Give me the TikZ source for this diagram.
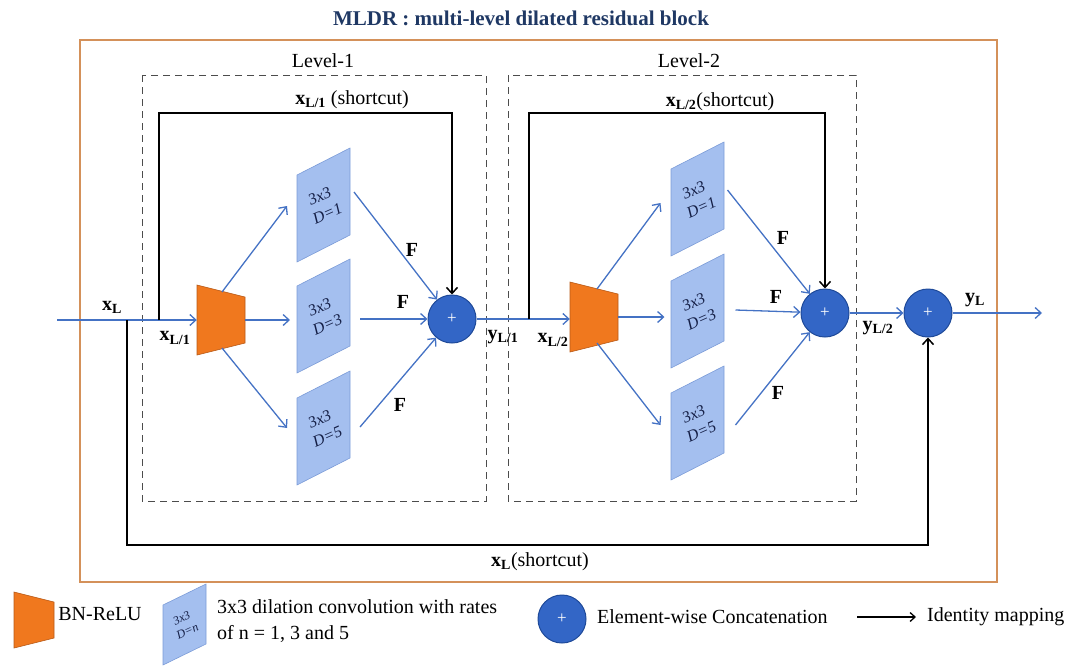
\documentclass[tikz,border=0pt]{standalone}
\usepackage{fontspec}
\setmainfont{Liberation Serif}
\usetikzlibrary{arrows.meta,calc}
\definecolor{blueln}{HTML}{4472C4}
\definecolor{boxfill}{HTML}{A4BFEF}
\definecolor{boxedge}{HTML}{7C9CD8}
\definecolor{orfill}{HTML}{F0781E}
\definecolor{oredge}{HTML}{B85A18}
\definecolor{circfill}{HTML}{3366C6}
\definecolor{circedge}{HTML}{1F4A99}
\definecolor{outerc}{HTML}{D4915A}
\definecolor{navy}{HTML}{1F3864}
\definecolor{boxtxtc}{HTML}{141E45}
\newcommand\convbox[9]{% name, cx, cy, w, h, off, D, font size, baselineskip
  \filldraw[fill=boxfill, draw=boxedge, line width=0.6pt]
    ({#2-#4/2},{#3-#5/2+#6/2}) -- ({#2+#4/2},{#3-#5/2-#6/2}) --
    ({#2+#4/2},{#3+#5/2-#6/2}) -- ({#2-#4/2},{#3+#5/2+#6/2}) -- cycle;
  \node[boxtxt, font=\fontsize{#8}{#9}\selectfont\itshape] (#1) at (#2,#3) {3x3\\D=#7};
}
\newcommand\bnrelu[6]{% name, cx, cy, hw, hl, hr
  \filldraw[fill=orfill, draw=oredge, line width=0.6pt]
    ({#2-#4},{#3-#5}) -- ({#2+#4},{#3-#6}) -- ({#2+#4},{#3+#6}) -- ({#2-#4},{#3+#5}) -- cycle;
  \node[minimum width=2*#4 pt, minimum height=2*#5 pt, inner sep=0pt] (#1) at (#2,#3) {};
}
\tikzset{
  barrow/.style={draw=blueln, line width=1.3pt, -{Straight Barb[length=6pt,width=11pt]}},
  karrow/.style={draw=black, line width=1.5pt, -{Straight Barb[length=6pt,width=11pt]}},
  lab/.style={font=\fontsize{20}{24}\selectfont\bfseries, inner sep=0pt},
  txt/.style={font=\fontsize{20}{26}\selectfont, inner sep=0pt},
  boxtxt/.style={rotate=24, text=boxtxtc, align=center, inner sep=0pt},
  plus/.style={circle, fill=circfill, draw=circedge, line width=1pt, minimum size=48pt,
    inner sep=0pt, text=white, font=\fontsize{17}{17}\selectfont},
  levelbox/.style={draw=gray!60!black, line width=0.9pt, dash pattern=on 7pt off 5pt},
}
\begin{document}
\begin{tikzpicture}[x=1pt,y=-1pt]
\useasboundingbox (0,0) rectangle (1085,665);

% title
\node[font=\fontsize{21}{25}\selectfont\bfseries, text=navy, inner sep=0pt] (title) at (521,18)
  {MLDR : multi-level dilated residual block};

% outer box and level boxes
\draw[outerc, line width=1.6pt] (80,40) rectangle (997,582);
\draw[levelbox] (142,75) rectangle (486,501);
\draw[levelbox] (508,75) rectangle (856,501);
\node[txt] (lv1) at (323,61) {Level-1};
\node[txt] (lv2) at (689,61) {Level-2};

% level 1 blocks
\bnrelu{t1}{221}{320}{24}{35}{23}
\convbox{b11}{323.5}{205}{53}{87}{27}{1}{16}{19}
\convbox{b13}{323.5}{316}{53}{87}{27}{3}{16}{19}
\convbox{b15}{323.5}{428}{53}{87}{27}{5}{16}{19}
\node[plus] (c1) at (452,319) {+};

% level 2 blocks
\bnrelu{t2}{594}{317}{24}{35}{23}
\convbox{b21}{697.5}{199}{53}{87}{27}{1}{16}{19}
\convbox{b23}{697.5}{311}{53}{87}{27}{3}{16}{19}
\convbox{b25}{697.5}{423}{53}{87}{27}{5}{16}{19}
\node[plus] (c2) at (825,313) {+};
\node[plus] (c3) at (928,313) {+};

% coordinates
\coordinate (in) at (57,320);
\coordinate (s0) at (127,320);
\coordinate (s1) at (159,320);
\coordinate (s2) at (529,319);
\coordinate (out) at (1042,313);

% main line level 1
\draw[barrow] (in) -- (t1.west);
\draw[barrow] ($(t1)+(1,-28)$) -- ($(b11)+(-36.5,1)$);
\draw[barrow] (t1.east |- t1) -- ($(b13)+(-33.5,4)$);
\draw[barrow] ($(t1)+(1,28)$) -- ($(b15)+(-36.5,0)$);
\draw[barrow] ($(b11)+(30.5,-13)$) -- (c1);
\draw[barrow] ($(b13)+(36.5,3)$) -- (c1);
\draw[barrow] ($(b15)+(36.5,-1)$) -- (c1);
\draw[karrow] (s1) -- (159,113) -| (c1.north);

% level 2
\draw[barrow] (c1.east) -- (c1.east -| t2.west);
\draw[barrow] ($(t2)+(3,-28)$) -- ($(b21)+(-37,4)$);
\draw[barrow] (t2.east) -- ($(b23)+(-33,6)$);
\draw[barrow] ($(t2)+(3,26)$) -- ($(b25)+(-37,2)$);
\draw[barrow] ($(b21)+(30,-9)$) -- (c2);
\draw[barrow] ($(b23)+(38,-1)$) -- (c2);
\draw[barrow] ($(b25)+(38,2)$) -- (c2);
\draw[karrow] (s2) -- (529,113) -| (c2.north);

% output
\draw[barrow] (c2.east) -- (c3.west);
\draw[barrow] (c3.east) -- (out);
\draw[karrow] (s0) -- (127,545) -| (c3.south);

% F labels
\node[lab] (f11) at (412,250) {F};
\node[lab] (f13) at (403,302) {F};
\node[lab] (f15) at (400,405) {F};
\node[lab] (f21) at (783,238) {F};
\node[lab] (f23) at (776,297) {F};
\node[lab] (f25) at (778,393) {F};

% variable labels
\node[lab] (lxL) at (112,307) {x\textsubscript{L}};
\node[lab] (lxL1) at (175,338) {x\textsubscript{L/1}};
\node[lab] (lyL1) at (503,337) {y\textsubscript{L/1}};
\node[lab] (lxL2) at (553,340) {x\textsubscript{L/2}};
\node[lab] (lyL2) at (878,328) {y\textsubscript{L/2}};
\node[lab] (lyL) at (975,300) {y\textsubscript{L}};
\node[txt] (sc1) at (352,100) {\textbf{x\textsubscript{L/1}} (shortcut)};
\node[txt] (sc2) at (720,102) {\textbf{x\textsubscript{L/2}}(shortcut)};
\node[txt] (sc0) at (540,562) {\textbf{x\textsubscript{L}}(shortcut)};

% legend
\bnrelu{lt}{34}{620}{20}{28}{18}
\node[txt] (ltxt) at (100,614) {BN-ReLU};
\convbox{lb}{184.5}{624.5}{43}{60}{21}{n}{12}{14}
\node[txt, anchor=west, align=left] (lbtxt) at (217,621)
  {3x3 dilation convolution with rates\\of n = 1, 3 and 5};
\node[plus] (lc) at (562,619) {+};
\node[txt, anchor=west] (lctxt) at (597,617) {Element-wise Concatenation};
\coordinate (la1) at (857,617);
\coordinate (la2) at (916,617);
\draw[draw=black, line width=1.3pt, -{Straight Barb[length=5pt,width=9pt]}] (la1) -- (la2);
\node[txt, anchor=west] (latxt) at (927,617) {Identity mapping};
\end{tikzpicture}
\end{document}
